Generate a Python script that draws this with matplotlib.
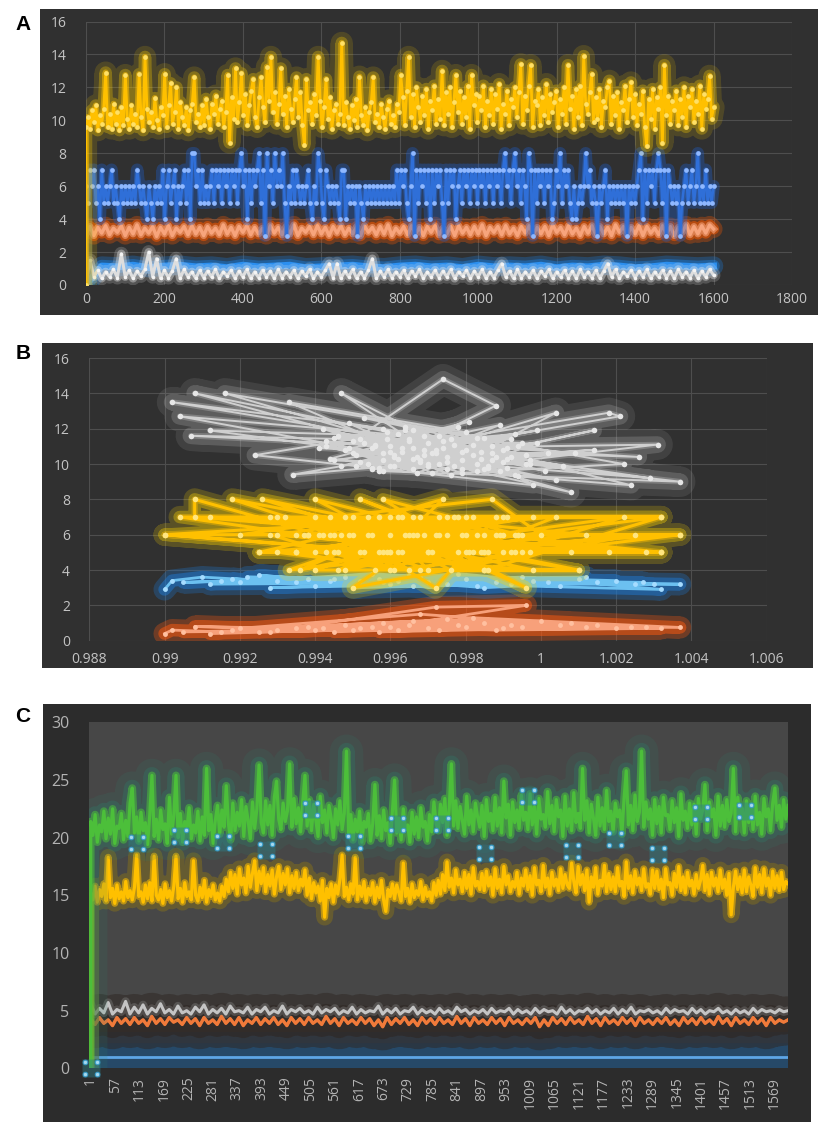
import numpy as np
import matplotlib
matplotlib.use('Agg')
import matplotlib.pyplot as plt
from matplotlib.patches import Rectangle
from matplotlib.path import Path

# ---------------- data ----------------
# Panel A (x = sample index 0..1600); the first value of yellow/blue sits on x = 0
a_yellow = [0.0, 9.6, 10.2, 9.5, 10.6, 9.9, 10.9, 9.4, 10.3, 9.8, 10.7, 12.9, 9.6, 10.4, 9.5, 11.0, 9.8, 10.5, 9.4, 10.8,
            9.7, 12.75, 10.1, 9.5, 10.9, 9.8, 10.4, 9.6, 12.8, 10.2, 9.4, 13.85, 10.7, 9.9, 10.5, 9.6, 11.35, 10.0, 9.5, 10.8,
            10.3, 12.8, 9.6, 10.9, 12.25, 9.8, 10.5, 12.0, 9.5, 11.1, 10.2, 9.7, 10.8, 9.4, 10.6, 11.0, 12.6, 9.9, 10.4, 9.6,
            10.9, 9.7, 11.3, 10.2, 9.5, 11.0, 10.4, 11.5, 9.8, 10.7, 11.2, 9.6, 10.5, 12.75, 8.65, 11.4, 10.1, 13.15, 9.9, 11.1,
            12.85, 10.3, 11.6, 9.7, 10.9, 11.8, 12.5, 10.2, 9.6, 11.4, 12.6, 10.8, 9.9, 13.25, 11.2, 13.85, 10.5, 11.7, 9.8, 11.0,
            13.15, 10.4, 11.5, 9.6, 11.9, 10.7, 9.9, 11.3, 12.6, 10.2, 11.7, 9.7, 8.5, 12.5, 10.6, 11.1, 9.8, 11.6, 10.3, 13.85,
            11.2, 9.6, 10.8, 12.5, 10.1, 11.4, 9.5, 10.6, 11.0, 9.8, 10.4, 14.7, 9.7, 11.1, 10.2, 9.5, 10.9, 10.0, 11.3, 9.6,
            12.65, 10.3, 9.7, 10.8, 9.4, 10.5, 11.1, 12.6, 9.9, 10.4, 9.6, 11.0, 10.2, 9.5, 10.7, 11.2, 9.8, 10.3, 9.6, 11.0,
            10.5, 12.75, 11.4, 9.7, 11.8, 13.85, 10.2, 11.6, 9.6, 12.0, 10.8, 9.9, 11.5, 10.3, 11.9, 9.5, 11.2, 10.6, 12.1, 9.8,
            11.3, 10.1, 13.0, 9.7, 11.7, 10.4, 12.0, 9.6, 11.1, 12.75, 10.5, 11.8, 9.8, 11.4, 10.2, 12.1, 9.5, 12.75, 10.9, 11.6,
            9.9, 11.5, 10.6, 12.1, 9.6, 11.2, 10.3, 11.9, 9.8, 11.6, 10.7, 12.2, 9.5, 11.0, 10.4, 11.8, 9.7, 11.3, 10.8, 12.0,
            10.2, 11.7, 13.4, 9.8, 11.5, 10.6, 12.1, 13.35, 9.6, 11.2, 10.9, 11.9, 9.7, 11.4, 10.3, 12.2, 9.9, 11.6, 10.5, 11.1,
            11.8, 9.6, 11.3, 10.4, 12.0, 9.8, 13.35, 10.7, 11.5, 9.5, 11.9, 10.2, 12.1, 9.7, 13.9, 11.0, 10.4, 11.7, 12.8, 9.9,
            11.4, 10.1, 11.9, 9.6, 11.2, 10.8, 12.0, 12.4, 9.8, 11.5, 10.3, 11.7, 9.5, 11.1, 10.6, 12.1, 9.9, 11.3, 12.3, 10.2,
            11.6, 9.7, 11.0, 10.4, 11.8, 9.6, 8.45, 11.3, 10.1, 11.9, 9.5, 11.4, 10.7, 12.0, 8.6, 13.35, 10.3, 11.5, 9.8, 11.2,
            10.6, 11.8, 9.7, 11.3, 10.2, 12.0, 9.6, 11.5, 10.8, 11.9, 9.9, 11.2, 10.4, 12.1, 9.5, 11.6, 10.7, 11.3, 12.7, 10.1,
            10.8]
a_blue = [0, 6, 5, 7, 6, 7, 5, 6, 4, 7, 5, 6, 5, 6, 7, 5, 6, 5, 4, 6,
          5, 6, 5, 6, 5, 6, 5, 7, 6, 5, 6, 5, 4, 6, 5, 4, 6, 5, 6, 5,
          7, 4, 6, 7, 5, 6, 7, 4, 6, 5, 6, 7, 5, 7, 4, 8, 8, 6, 7, 5,
          7, 5, 6, 5, 6, 7, 5, 7, 6, 7, 5, 7, 6, 7, 5, 7, 6, 7, 5, 7,
          8, 6, 7, 4, 7, 5, 7, 6, 7, 8, 5, 7, 3, 8, 6, 7, 5, 8, 6, 7,
          6, 8, 5, 3, 6, 5, 7, 5, 7, 6, 5, 6, 5, 6, 7, 5, 4, 6, 5, 8,
          7, 5, 4, 7, 6, 5, 6, 5, 6, 5, 4, 7, 7, 4, 6, 5, 6, 5, 6, 3,
          6, 5, 4, 6, 5, 6, 5, 6, 5, 6, 5, 6, 5, 6, 5, 6, 5, 6, 5, 7,
          5, 7, 6, 7, 5, 4, 6, 8, 3, 7, 5, 7, 6, 7, 5, 7, 4, 7, 5, 7,
          6, 7, 5, 3, 7, 5, 7, 6, 7, 4, 6, 7, 5, 7, 6, 7, 5, 7, 6, 7,
          5, 7, 6, 7, 5, 7, 6, 7, 5, 7, 6, 7, 5, 7, 8, 6, 7, 5, 7, 8,
          6, 7, 5, 7, 6, 4, 8, 7, 3, 7, 5, 7, 6, 7, 5, 7, 6, 7, 4, 5,
          7, 6, 8, 5, 7, 6, 7, 5, 4, 6, 4, 5, 6, 5, 6, 8, 6, 7, 5, 6,
          5, 3, 6, 5, 6, 7, 4, 6, 5, 6, 5, 6, 5, 6, 5, 6, 3, 6, 5, 6,
          5, 6, 7, 8, 4, 7, 5, 7, 6, 7, 5, 7, 8, 7, 5, 7, 3, 7, 6, 5,
          6, 5, 6, 3, 5, 6, 7, 5, 6, 7, 5, 6, 8, 5, 6, 5, 7, 5, 6, 5,
          6]
a_orange = [3.1, 3.55, 3.0, 3.5, 3.15, 3.6, 3.05, 3.45, 3.2, 3.6,
            3.0, 3.5, 3.1, 3.65, 3.05, 3.45, 3.15, 3.55, 2.95, 3.5,
            3.1, 3.6, 3.0, 3.45, 3.2, 3.55, 3.05, 3.6, 3.1, 3.5,
            3.0, 3.55, 3.15, 3.45, 3.05, 3.65, 3.1, 3.5, 3.0, 3.55,
            3.2, 3.6, 3.05, 3.5, 3.1, 3.45, 3.0, 3.6, 3.15, 3.5,
            3.05, 3.55, 3.1, 3.65, 3.0, 3.45, 3.2, 3.55, 3.05, 3.6,
            3.1, 3.5, 3.0, 3.55, 3.15, 3.6, 3.05, 3.45, 3.1, 3.55,
            3.0, 3.6, 3.2, 3.5, 3.05, 3.55, 3.1, 3.65, 3.0, 3.45,
            3.15, 3.55, 3.05, 3.6, 3.1, 3.5, 3.0, 3.55, 3.2, 3.6,
            3.05, 3.45, 3.1, 3.55, 3.0, 3.6, 3.15, 3.5, 3.05, 3.55,
            3.1, 3.65, 3.0, 3.5, 3.2, 3.55, 3.05, 3.6, 3.1, 3.45,
            3.0, 3.55, 3.15, 3.6, 3.05, 3.5, 3.1, 3.55, 3.0, 3.65,
            3.2, 3.5, 3.05, 3.6, 3.1, 3.45, 3.0, 3.55, 3.15, 3.6,
            3.05, 3.55, 3.1, 3.5, 3.0, 3.65, 3.2, 3.55, 3.05, 3.5,
            3.1, 3.6, 3.0, 3.55, 3.15, 3.45, 3.05, 3.6, 3.1, 3.55,
            3.0, 3.5, 3.2, 3.65, 3.05, 3.55, 3.1, 3.6, 3.15, 3.65,
            3.4]
a_grey = [0.1, 1.5, 0.5, 0.9, 0.4, 0.8, 0.5, 0.95, 0.45, 1.9,
          0.5, 0.9, 0.4, 0.85, 0.55, 0.95, 2.0, 0.5, 1.6, 0.4,
          0.9, 0.45, 0.85, 1.6, 0.4, 0.95, 0.5, 0.8, 0.4, 0.9,
          0.45, 0.85, 0.5, 0.95, 0.4, 0.8, 0.55, 0.9, 0.4, 0.85,
          0.5, 0.95, 0.4, 0.8, 0.45, 0.9, 0.5, 0.85, 0.4, 0.95,
          0.45, 0.8, 0.5, 0.9, 0.4, 0.85, 0.55, 0.95, 0.4, 0.8,
          0.5, 0.9, 1.3, 0.45, 1.3, 0.4, 0.85, 0.5, 0.95, 0.4,
          0.8, 0.45, 0.9, 1.6, 0.4, 0.85, 0.5, 0.95, 0.45, 0.8,
          0.5, 0.9, 0.4, 0.85, 0.55, 0.95, 0.4, 0.8, 0.5, 0.9,
          0.45, 0.85, 0.5, 0.95, 0.4, 0.8, 0.55, 0.9, 0.4, 0.85,
          0.5, 0.95, 0.4, 0.8, 0.45, 0.9, 1.3, 0.5, 0.85, 0.4,
          0.95, 0.45, 0.8, 0.5, 0.9, 0.4, 0.85, 0.55, 0.95, 0.4,
          0.8, 0.5, 0.9, 0.45, 0.85, 0.4, 0.95, 0.5, 0.8, 0.45,
          0.9, 0.4, 0.85, 1.3, 0.5, 0.95, 0.4, 0.8, 0.55, 0.9,
          0.45, 0.85, 0.5, 0.95, 0.4, 0.8, 0.5, 0.9, 0.45, 0.85,
          0.4, 0.95, 0.5, 0.8, 0.45, 0.9, 0.4, 0.85, 0.5, 0.95,
          0.6]
a_lightblue = [0.0, 1.15, 1.1, 1.2, 1.05, 1.15, 1.2, 1.1, 1.15, 1.05,
               1.2, 1.1, 1.15, 1.2, 1.05, 1.1, 1.15, 1.2, 1.1, 1.05,
               1.15, 1.2, 1.1, 1.15, 1.05, 1.2, 1.1, 1.15, 1.1, 1.2,
               1.05, 1.15, 1.1, 1.2, 1.15, 1.05, 1.1, 1.2, 1.15, 1.1, 1.15]
a_xticks = [0, 200, 400, 600, 800, 1000, 1200, 1400, 1600, 1800]
a_yticks = [0, 2, 4, 6, 8, 10, 12, 14, 16]

# Panel B (x = ratio, y = value), points in drawing order
b_grey_x = [0.9961, 0.9970, 0.9952, 0.9990, 0.9946, 0.9983, 0.9958, 0.9902, 0.9965, 0.9997,
            0.9941, 0.9978, 0.9955, 1.0004, 0.9987, 0.9949, 0.9973, 1.0009, 0.9962, 0.9908,
            0.9969, 0.9993, 0.9956, 0.9981, 0.9944, 0.9975, 1.0031, 0.9966, 0.9916, 0.9985,
            0.9958, 0.9999, 0.9947, 0.9976, 0.9904, 0.9968, 0.9991, 0.9953, 1.0022, 0.9979,
            0.9950, 0.9974, 0.9988, 0.9963, 1.0004, 0.9942, 0.9970, 0.9995, 0.9907, 0.9960,
            0.9984, 1.0037, 0.9957, 0.9980, 0.9933, 0.9967, 0.9996, 0.9945, 1.0026, 0.9972,
            0.9934, 0.9961, 0.9989, 0.9951, 1.0018, 1.0021, 0.9977, 0.9998, 0.9924, 0.9964,
            0.9986, 0.9947, 0.9971, 1.0008, 0.9955, 0.9992, 0.9912, 0.9975, 1.0029, 0.9959,
            0.9982, 1.0014, 0.9966, 0.9943, 0.9994, 1.0024, 0.9969, 0.9987, 0.9954, 1.0014,
            0.9968, 0.9979, 0.9957, 0.9992, 0.9963, 0.9985, 0.9950, 0.9974, 0.9997, 0.9960,
            0.9982, 0.9966, 0.9989, 0.9953, 0.9977, 1.0002, 0.9961, 0.9971, 0.9994, 0.9958,
            0.9983, 0.9948, 0.9975, 1.0006, 0.9965, 0.9987, 0.9955, 0.9979, 0.9969, 0.9991,
            0.9962, 0.9986, 0.9949, 0.9973, 0.9996, 0.9958, 0.9980, 0.9966, 0.9990, 0.9952,
            0.9976, 0.9999, 0.9960, 0.9983, 0.9945, 0.9970, 0.9993, 0.9956, 0.9979, 0.9964,
            0.9988, 0.9951, 0.9974, 1.0001, 0.9959, 0.9984, 0.9967, 0.9943, 0.9991, 0.9972]
b_grey_y = [10.4, 11.2, 10.1, 10.8, 11.6, 9.6, 12.0, 13.5, 11.3, 10.2,
            10.9, 12.1, 9.8, 12.9, 11.0, 12.3, 10.0, 10.6, 11.7, 14.0,
            10.5, 9.4, 11.1, 12.4, 10.3, 9.7, 11.1, 10.9, 14.0, 11.5,
            10.6, 11.9, 9.9, 11.4, 12.7, 10.2, 10.9, 12.6, 10.0, 9.5,
            11.3, 14.8, 13.3, 10.7, 9.1, 12.0, 9.9, 11.2, 11.6, 11.0,
            10.3, 9.0, 9.6, 11.8, 13.5, 10.4, 10.0, 11.5, 10.4, 10.8,
            9.4, 9.9, 12.2, 10.5, 12.9, 12.7, 11.1, 8.8, 10.5, 11.9,
            9.8, 14.0, 10.6, 8.4, 10.9, 11.4, 11.9, 10.1, 9.2, 11.4,
            10.5, 11.9, 9.7, 11.0, 9.3, 8.8, 11.6, 10.2, 10.0, 10.8,
            10.1, 10.7, 9.8, 10.4, 10.9, 9.7, 10.6, 11.3, 10.0, 9.9,
            11.1, 10.3, 9.6, 11.2, 9.9, 10.6, 10.5, 9.5, 11.0, 10.2,
            10.0, 10.8, 10.4, 9.9, 11.4, 10.6, 9.7, 10.2, 10.8, 9.8,
            10.3, 9.9, 10.9, 11.6, 10.5, 9.6, 10.8, 11.9, 10.1, 11.4,
            9.4, 11.2, 10.7, 11.5, 10.2, 10.0, 11.7, 11.0, 9.7, 12.1,
            10.4, 9.9, 10.9, 9.6, 11.8, 10.7, 9.5, 11.3, 10.3, 10.6]
b_yellow_x = [0.9955, 0.9970, 0.9940, 0.9985, 0.9962, 0.9900, 0.9978, 0.9948, 0.9993, 0.9958,
              0.9908, 0.9908, 0.9966, 0.9982, 0.9945, 1.0004, 0.9968, 0.9930, 0.9975, 0.9952,
              0.9990, 0.9938, 0.9963, 1.0012, 0.9957, 0.9986, 0.9926, 0.9972, 0.9943, 0.9998,
              0.9960, 0.9933, 0.9980, 1.0025, 0.9950, 0.9977, 0.9947, 0.9918, 0.9992, 0.9965,
              0.9928, 0.9985, 1.0032, 0.9959, 0.9974, 0.9941, 1.0008, 0.9969, 0.9996, 0.9954,
              0.9920, 0.9983, 1.0037, 0.9961, 0.9935, 0.9988, 0.9972, 0.9949, 1.0018, 0.9966,
              0.9925, 0.9979, 0.9956, 1.0000, 0.9987, 0.9944, 1.0032, 0.9971, 0.9937, 0.9994,
              0.9958, 0.9981, 1.0010, 0.9964, 0.9912, 0.9989, 0.9953, 1.0022, 0.9976, 0.9940,
              0.9997, 0.9962, 0.9930, 0.9984, 1.0028, 0.9967, 0.9946, 0.9991, 0.9973, 0.9960,
              0.9900, 0.9935, 0.9990, 1.0037, 0.9960, 1.0032, 0.9925, 0.9970, 0.9904, 0.9960,
              1.0032, 0.9980, 0.9940, 1.0010, 0.9965, 0.9950, 0.9995, 0.9930, 0.9985, 0.9945,
              0.9935, 0.9990, 0.9942, 0.9985, 0.9950, 0.9978, 0.9938, 0.9995, 0.9957, 0.9970,
              0.9932, 0.9988, 0.9963, 0.9946, 0.9982, 0.9954, 0.9998, 0.9940, 0.9975, 0.9960,
              0.9928, 0.9993, 0.9948, 0.9980, 0.9936, 0.9968, 0.9986, 0.9952, 0.9973, 0.9944]
b_yellow_y = [6, 5, 7, 6, 5, 6, 7, 4, 6, 5,
              8, 7, 6, 5, 6, 7, 4, 5, 6, 8,
              5, 6, 7, 6, 5, 4, 8, 6, 5, 7,
              6, 4, 5, 6, 3, 7, 6, 8, 5, 6,
              7, 4, 7, 5, 8, 6, 5, 6, 3, 7,
              6, 6, 6, 4, 5, 7, 3, 6, 5, 7,
              5, 6, 4, 6, 8, 7, 5, 5, 6, 6,
              8, 5, 4, 6, 7, 6, 5, 7, 4, 8,
              5, 7, 6, 5, 5, 6, 5, 7, 6, 5,
              6, 6, 6, 6, 5, 5, 5, 5, 7, 7,
              7, 7, 4, 4, 4, 6, 6, 7, 5, 5,
              5, 7, 6, 4, 7, 5, 6, 5, 7, 4,
              7, 6, 5, 4, 7, 6, 4, 5, 7, 4,
              6, 5, 7, 6, 4, 7, 5, 5, 7, 6]
b_blue_x = [0.9900, 0.9902, 0.9910, 0.9935, 0.9918, 0.9960, 0.9925, 0.9972, 0.9945, 0.9988,
            0.9912, 0.9955, 1.0005, 0.9930, 0.9968, 1.0015, 0.9950, 0.9980, 0.9922, 1.0025,
            0.9962, 0.9940, 0.9995, 1.0032, 0.9958, 0.9915, 0.9975, 1.0010, 0.9948, 0.9985,
            1.0020, 0.9965, 0.9905, 0.9938, 0.9992, 1.0030, 0.9952, 0.9978, 1.0002, 0.9928,
            0.9970, 1.0037, 0.9944, 0.9983, 1.0012, 0.9957, 0.9920, 0.9998, 1.0027, 0.9966]
b_blue_y = [2.9, 3.4, 3.6, 3.3, 3.5, 3.2, 3.7, 3.0, 3.5, 3.3,
            3.2, 3.8, 3.1, 3.4, 3.6, 3.3, 3.0, 3.5, 3.6, 3.2,
            3.4, 3.1, 3.6, 2.9, 3.3, 3.4, 3.2, 3.5, 3.6, 3.0,
            3.4, 3.7, 3.3, 3.5, 3.2, 3.2, 3.4, 3.8, 3.3, 3.0,
            3.3, 3.2, 3.4, 3.1, 3.6, 3.5, 3.3, 3.4, 3.3, 3.1]
b_orange_x = [0.9900, 0.9902, 0.9915, 0.9935, 0.9908, 0.9950, 0.9925, 0.9965, 0.9942, 0.9980,
              0.9912, 0.9958, 0.9990, 0.9930, 0.9972, 0.9996, 0.9960, 1.0005, 0.9945, 0.9985,
              0.9920, 0.9968, 1.0012, 0.9938, 0.9975, 1.0020, 0.9952, 0.9992, 0.9905, 1.0028,
              0.9962, 0.9982, 1.0037, 0.9948, 1.0000, 0.9928, 0.9970, 1.0015, 0.9955, 0.9988,
              1.0032, 0.9940, 0.9978, 1.0008, 0.9918, 0.9966, 1.0024, 0.9957, 0.9995, 0.9973]
b_orange_y = [0.4, 0.6, 0.5, 0.7, 0.8, 0.6, 0.5, 0.9, 0.7, 0.8,
              0.4, 1.0, 0.7, 0.6, 1.9, 2.0, 0.8, 0.9, 0.5, 1.0,
              0.7, 1.5, 0.8, 0.8, 1.2, 0.7, 0.7, 0.9, 0.5, 0.8,
              0.6, 1.3, 0.75, 0.9, 1.1, 0.5, 0.7, 0.9, 0.8, 0.6,
              0.7, 0.6, 0.9, 1.0, 0.6, 1.1, 0.8, 0.5, 0.8, 0.6]
b_xticks = [0.988, 0.990, 0.992, 0.994, 0.996, 0.998, 1.000, 1.002, 1.004, 1.006]
b_xlabels = ['0.988', '0.99', '0.992', '0.994', '0.996', '0.998', '1', '1.002', '1.004', '1.006']
b_yticks = [0, 2, 4, 6, 8, 10, 12, 14, 16]

# Panel C (x = category index 1..1600); the first value of green/yellow sits on x = 1
c_green = [0.0, 21.4, 20.2, 22.0, 19.6, 21.1, 20.5, 22.3, 19.9, 21.7, 20.3, 22.5, 19.5, 21.0, 20.8, 22.1, 19.8, 21.5, 20.1, 23.0,
           24.3, 20.4, 21.8, 19.7, 22.2, 20.6, 21.3, 19.4, 22.0, 25.4, 20.1, 21.6, 19.8, 22.4, 20.7, 21.2, 19.5, 23.5, 20.3, 21.9,
           25.4, 20.0, 22.1, 19.6, 21.4, 20.8, 22.6, 19.9, 21.1, 20.4, 22.3, 19.7, 21.8, 20.2, 26.0, 20.6, 22.0, 19.5, 21.5, 22.8,
           20.3, 22.4, 20.9, 24.5, 21.2, 19.8, 23.0, 20.6, 22.2, 21.0, 23.3, 20.1, 22.7, 21.5, 19.9, 23.1, 20.8, 22.5, 26.3, 21.3,
           20.4, 23.2, 21.1, 22.8, 20.2, 23.5, 24.9, 21.6, 20.7, 23.0, 21.4, 22.3, 26.4, 20.9, 23.4, 21.2, 22.6, 20.5, 23.1, 25.4,
           21.0, 23.3, 20.6, 22.9, 21.5, 20.1, 23.6, 21.3, 22.4, 20.4, 22.8, 21.7, 20.0, 22.5, 21.1, 23.2, 20.7, 22.1, 27.5, 20.3,
           22.0, 19.8, 21.6, 20.5, 22.3, 19.6, 21.4, 20.9, 22.1, 19.7, 21.2, 24.6, 20.2, 21.9, 19.9, 22.4, 20.6, 21.3, 19.5, 22.2,
           25.0, 20.4, 21.7, 19.8, 22.5, 20.7, 21.1, 19.6, 22.2, 20.3, 21.8, 20.0, 22.6, 20.9, 21.4, 19.7, 22.0, 20.5, 23.1, 21.2,
           20.6, 22.9, 21.3, 23.4, 20.2, 22.5, 26.4, 21.0, 23.2, 20.8, 22.7, 21.5, 20.3, 23.6, 21.1, 22.4, 20.5, 23.0, 21.8, 20.9,
           22.8, 20.1, 23.3, 21.4, 22.1, 20.6, 23.5, 21.0, 22.6, 20.4, 24.9, 21.7, 22.9, 20.2, 23.1, 21.3, 22.4, 20.8, 23.7, 21.5,
           22.2, 20.7, 23.8, 21.1, 22.7, 20.3, 23.4, 21.6, 22.0, 20.9, 24.0, 21.2, 22.8, 20.5, 23.3, 21.8, 22.4, 20.1, 23.6, 21.0,
           22.5, 20.6, 23.9, 21.3, 22.1, 20.8, 26.0, 21.5, 23.2, 20.4, 22.9, 21.7, 20.2, 23.5, 21.0, 22.6, 20.7, 24.1, 21.4, 22.3,
           20.5, 23.0, 21.8, 22.4, 20.3, 23.4, 25.8, 21.1, 22.8, 20.6, 23.7, 21.4, 22.2, 27.5, 20.9, 23.1, 21.6, 22.5, 20.2, 23.3,
           21.2, 22.7, 20.4, 23.5, 21.9, 22.0, 20.7, 23.2, 21.3, 22.6, 20.1, 23.8, 21.5, 22.3, 20.8, 23.0, 21.1, 22.9, 20.3, 23.4,
           21.6, 22.4, 24.6, 20.6, 23.1, 21.8, 22.5, 20.2, 23.6, 21.0, 22.8, 20.9, 23.3, 21.4, 22.1, 26.0, 20.5, 23.5, 21.7, 22.6,
           20.4, 23.2, 21.3, 22.9, 20.7, 23.6, 21.1, 22.2, 20.3, 23.4, 21.8, 22.5, 20.6, 23.0, 24.3, 21.5, 22.8, 20.9, 23.3, 21.6,
           22.8]
c_yellow = [0.0, 15.2, 14.6, 15.8, 14.4, 15.5, 14.9, 16.0, 14.5, 18.3, 14.8, 15.6, 14.3, 15.9, 14.7, 15.3, 14.5, 16.2, 14.8, 15.4,
            14.6, 15.7, 18.5, 14.9, 15.3, 14.4, 15.9, 14.7, 16.1, 14.5, 18.4, 15.0, 14.6, 15.5, 14.3, 16.0, 14.8, 15.4, 14.5, 15.8,
            18.4, 14.7, 15.6, 14.4, 16.1, 14.9, 15.3, 14.6, 18.0, 15.0, 14.5, 15.7, 14.8, 16.3, 14.4, 15.5, 14.9, 15.9, 14.6, 15.2,
            14.5, 15.8, 14.9, 16.4, 15.3, 17.0, 15.6, 16.8, 15.1, 17.3, 15.9, 16.5, 15.2, 17.5, 15.7, 16.9, 18.0, 15.4, 17.1, 16.0,
            17.4, 15.3, 16.8, 15.8, 17.2, 15.1, 16.6, 17.5, 15.5, 16.9, 15.9, 17.3, 15.2, 16.7, 15.6, 17.0, 15.4, 16.4, 15.8, 17.2,
            15.0, 16.5, 14.7, 16.1, 15.2, 15.8, 14.5, 16.3, 13.1, 15.6, 14.8, 16.0, 14.4, 15.9, 15.1, 16.4, 18.5, 14.9, 15.7, 14.6,
            16.0, 15.1, 18.3, 14.6, 15.8, 14.9, 16.2, 14.5, 15.6, 15.0, 16.1, 14.4, 15.7, 14.8, 16.3, 14.6, 13.6, 15.5, 14.9, 16.0,
            14.7, 15.9, 15.2, 14.5, 17.8, 14.9, 15.6, 14.4, 16.0, 14.8, 15.4, 15.0, 16.2, 14.6, 15.7, 14.9, 15.3, 14.5, 16.1, 15.0,
            16.3, 15.1, 16.8, 15.4, 17.9, 15.7, 16.5, 15.2, 17.2, 15.9, 16.4, 15.3, 17.0, 15.6, 16.8, 15.1, 17.4, 15.8, 16.2, 15.5,
            16.9, 15.4, 17.1, 15.8, 16.6, 15.0, 17.3, 15.6, 16.4, 15.2, 17.5, 15.9, 16.7, 15.3, 16.2, 15.7, 17.0, 15.1, 16.5, 15.8,
            17.2, 15.5, 16.7, 15.0, 17.4, 15.9, 16.3, 15.3, 17.6, 15.7, 16.5, 15.1, 17.0, 15.8, 16.4, 15.4, 17.3, 15.6, 16.8, 15.9,
            15.6, 17.8, 16.2, 15.2, 17.5, 15.9, 16.8, 15.4, 17.2, 14.4, 16.6, 15.7, 17.4, 15.1, 16.3, 15.8, 17.6, 15.3, 16.9, 15.5,
            16.6, 15.3, 17.4, 15.8, 16.2, 14.9, 17.9, 15.6, 16.7, 15.2, 17.1, 15.9, 16.5, 15.4, 17.3, 15.7, 16.0, 15.1, 17.2, 15.6,
            17.1, 15.5, 16.4, 14.8, 17.3, 15.9, 16.1, 15.0, 16.9, 15.7, 17.5, 15.4, 16.6, 15.2, 17.0, 15.8, 16.3, 15.1, 16.8, 15.6,
            16.3, 17.6, 15.4, 16.8, 15.1, 17.0, 15.8, 16.5, 15.3, 17.2, 15.6, 16.4, 15.0, 16.9, 13.3, 15.7, 17.1, 15.5, 16.6, 15.2,
            17.2, 15.3, 16.6, 15.9, 14.9, 17.4, 15.7, 16.8, 15.2, 17.3, 15.8, 16.5, 15.0, 17.1, 15.6, 16.7, 15.4, 17.0, 15.5, 16.2,
            16.0]
c_grey = [5.6, 4.7, 5.2, 4.8, 5.7, 4.7, 5.1, 4.9, 5.8, 4.7,
          5.3, 4.8, 5.5, 4.7, 5.2, 4.9, 5.6, 4.8, 5.1, 4.7,
          5.4, 4.8, 5.0, 4.7, 5.3, 4.9, 5.5, 4.7, 5.1, 4.8,
          5.2, 4.7, 5.4, 4.9, 5.0, 4.8, 5.3, 4.7, 5.1, 4.9,
          5.3, 4.7, 5.0, 4.8, 5.4, 4.7, 5.1, 4.9, 5.2, 4.8,
          5.0, 4.7, 5.3, 4.8, 5.1, 4.9, 5.2, 4.7, 5.0, 4.8,
          5.3, 4.7, 5.1, 4.8, 5.0, 4.9, 5.4, 4.7, 5.1, 4.8,
          5.2, 4.7, 5.0, 4.9, 5.3, 4.7, 5.1, 4.8, 5.0, 4.7,
          5.2, 4.8, 5.0, 4.7, 5.3, 4.9, 5.1, 4.7, 5.0, 4.8,
          5.1, 4.7, 5.2, 4.8, 5.0, 4.9, 5.2, 4.7, 5.1, 4.8,
          5.0, 4.7, 5.2, 4.8, 5.1, 4.9, 5.0, 4.7, 5.3, 4.8,
          5.1, 4.7, 5.0, 4.9, 5.2, 4.8, 5.1, 4.7, 5.0, 4.8,
          5.2, 4.7, 5.1, 4.8, 5.3, 4.7, 5.0, 4.9, 5.1, 4.8,
          5.0, 4.7, 5.2, 4.8, 5.1, 4.9, 5.0, 4.7, 5.2, 4.8,
          5.1, 4.7, 5.0, 4.9, 5.2, 4.8, 5.0, 4.7, 5.1, 4.8,
          5.0, 4.7, 5.2, 4.8, 5.1, 4.9, 5.0, 4.8, 5.1, 4.9,
          5.0]
c_orange = [4.3, 3.8, 4.4, 3.9, 4.2, 3.7, 4.4, 3.9, 4.3, 3.8,
            4.4, 3.9, 4.2, 3.7, 4.5, 3.9, 4.3, 3.8, 4.4, 4.0,
            4.2, 3.8, 4.4, 3.9, 4.3, 3.7, 4.4, 3.9, 4.2, 3.8,
            4.5, 3.9, 4.3, 3.8, 4.4, 3.7, 4.2, 3.9, 4.4, 3.8,
            4.3, 3.9, 4.4, 3.8, 4.2, 3.7, 4.4, 3.9, 4.3, 3.8,
            4.4, 3.9, 4.2, 3.8, 4.5, 3.9, 4.3, 3.7, 4.4, 3.9,
            4.2, 3.8, 4.4, 3.9, 4.3, 3.7, 4.2, 3.6, 4.4, 3.8,
            4.3, 3.9, 4.4, 3.8, 4.2, 3.7, 4.4, 3.9, 4.3, 3.8,
            4.4, 3.9, 4.2, 3.8, 4.5, 3.9, 4.3, 3.7, 4.4, 3.9,
            4.2, 3.8, 4.4, 3.9, 4.3, 3.7, 4.4, 3.9, 4.2, 3.8,
            4.3, 3.9, 4.4, 3.6, 4.2, 3.7, 4.4, 3.9, 4.3, 3.8,
            4.4, 3.9, 4.2, 3.8, 4.5, 3.9, 4.3, 3.7, 4.4, 3.9,
            4.2, 3.8, 4.4, 3.9, 4.3, 3.7, 4.4, 3.9, 4.2, 3.8,
            4.3, 3.9, 4.4, 3.8, 4.2, 3.7, 4.4, 3.9, 4.3, 3.8,
            4.4, 3.9, 4.2, 3.8, 4.5, 3.9, 4.3, 3.7, 4.4, 3.9,
            4.2, 3.8, 4.4, 3.9, 4.3, 3.7, 4.4, 3.9, 4.2, 4.0,
            4.2]
c_blue = [1.0, 1.0, 1.0, 1.0, 1.0, 1.0, 1.0, 1.0, 1.0, 1.0, 1.0, 1.0, 1.0, 1.0, 1.0, 1.0, 1.0]
c_mark_x = [1, 107, 206, 304, 402, 506, 605, 703, 806, 905, 1004, 1104, 1203, 1302, 1401, 1501]
c_mark_y = [0.0, 19.5, 20.1, 19.65, 18.9, 22.5, 19.65, 21.2, 21.2, 18.7, 23.6, 18.8, 19.9, 18.6, 22.1, 22.3]
c_xticks = [1, 57, 113, 169, 225, 281, 337, 393, 449, 505, 561, 617, 673, 729, 785, 841,
            897, 953, 1009, 1065, 1121, 1177, 1233, 1289, 1345, 1401, 1457, 1513, 1569]
c_yticks = [0, 5, 10, 15, 20, 25, 30]

# ---------------- figure ----------------
W, H = 822, 1124
fig = plt.figure(figsize=(W / 100, H / 100), dpi=100)
fig.patch.set_facecolor('white')
plt.rcParams['font.family'] = ['Open Sans', 'DejaVu Sans']


def rect(x0, y0, x1, y1):
    return [x0 / W, 1 - y1 / H, (x1 - x0) / W, (y1 - y0) / H]


def box(x0, y0, x1, y1, color, z=0):
    fig.add_artist(Rectangle((x0 / W, 1 - y1 / H), (x1 - x0) / W, (y1 - y0) / H,
                             transform=fig.transFigure, facecolor=color,
                             edgecolor='none', zorder=z))


def xs(lo, hi, n, start_dup=False):
    # sample positions; optionally the first sample shares the first position
    if start_dup:
        return np.concatenate([[lo], np.linspace(lo, hi, n - 1)])
    return np.linspace(lo, hi, n)


def glow(ax, x, y, color, lw, gcol, widths, alphas, z, ms=0, mcol=None, clip=True,
         inner=None):
    for w, a in zip(widths, alphas):
        ax.plot(x, y, color=gcol, lw=w, alpha=a, solid_joinstyle='round',
                solid_capstyle='round', zorder=z, clip_on=clip)
    if inner is not None:
        ax.plot(x, y, color=color, lw=inner[0], alpha=inner[1], solid_joinstyle='round',
                zorder=z + 0.2, clip_on=clip)
    if ms > 0:
        ax.plot(x, y, color=color, lw=lw, marker='o', ms=ms, mfc=mcol, mec=mcol,
                mew=0, zorder=z + 0.5, clip_on=clip)
    else:
        ax.plot(x, y, color=color, lw=lw, zorder=z + 0.5, clip_on=clip)


def style(ax, face, tcol, fs, pad_x, pad_y, grid=True):
    ax.set_facecolor(face)
    for s in ax.spines.values():
        s.set_visible(False)
    ax.tick_params(length=0, colors=tcol, labelsize=fs)
    ax.tick_params(axis='x', pad=pad_x)
    ax.tick_params(axis='y', pad=pad_y)
    if grid:
        ax.grid(True, color='#4e4e4e', lw=0.8)
        ax.set_axisbelow(True)


# panel boxes and letters
box(40, 9, 818, 315, '#303030')
box(42, 343, 813, 668, '#303030')
box(43, 704, 811, 1122, '#2c2c2c')
for lab, yy in [('A', 24), ('B', 354), ('C', 716)]:
    fig.text(23 / W, 1 - yy / H, lab, fontsize=15, fontweight='bold',
             family=['Liberation Sans', 'DejaVu Sans'], ha='center', va='center')

# ---- Panel A ----
axA = fig.add_axes(rect(86, 21.5, 792, 285))
style(axA, '#303030', '#c4c4c4', 10, 5, 14)
glow(axA, xs(0, 1600, len(a_lightblue)), a_lightblue, '#2b8ff0', 5.0, '#1a7fe0',
     [14, 9], [0.3, 0.45], 2)
glow(axA, xs(0, 1600, len(a_grey)), a_grey, '#dedede', 2.2, '#e8e8e8',
     [10, 6], [0.2, 0.4], 3, ms=2.6, mcol='#f4f4f4')
glow(axA, xs(0, 1600, len(a_orange)), a_orange, '#f7a47c', 2.4, '#ff5a00',
     [13, 8], [0.3, 0.5], 4, inner=(5, 0.6))
glow(axA, xs(0, 1600, len(a_blue), True), a_blue, '#2f6fd8', 1.8, '#1e5fd0',
     [9], [0.35], 5, ms=3.4, mcol='#8fb8ff', inner=(3.5, 0.5))
glow(axA, xs(0, 1600, len(a_yellow), True), a_yellow, '#ffc000', 2.0, '#ffd000',
     [16, 9], [0.15, 0.3], 6, ms=3.4, mcol='#ffe066', inner=(4.5, 0.5))
axA.set_xlim(0, 1800)
axA.set_ylim(0, 16)
axA.set_xticks(a_xticks)
axA.set_yticks(a_yticks)

# ---- Panel B ----
axB = fig.add_axes(rect(89.3, 358, 766.7, 640.7))
style(axB, '#303030', '#c4c4c4', 10, 8, 14)
glow(axB, b_orange_x, b_orange_y, '#f7a07a', 2.0, '#ff5a10', [16, 9], [0.3, 0.5], 2,
     ms=3.5, mcol='#ffc0a0')
glow(axB, b_blue_x, b_blue_y, '#6cc0f0', 2.0, '#1f78d0', [16, 9], [0.3, 0.5], 3,
     ms=3.5, mcol='#a6dcff')
glow(axB, b_yellow_x, b_yellow_y, '#ffc000', 2.2, '#ffd700', [16, 9], [0.2, 0.35], 4,
     ms=4, mcol='#ffe680', inner=(4.5, 0.4))
glow(axB, b_grey_x, b_grey_y, '#cfcfcf', 1.4, '#c4c4c4', [22, 12], [0.12, 0.22], 5,
     ms=4, mcol='#e6e6e6', inner=(4, 0.3))
axB.set_xlim(0.988, 1.006)
axB.set_ylim(0, 16)
axB.set_xticks(b_xticks)
axB.set_xticklabels(b_xlabels)
axB.set_yticks(b_yticks)

# ---- Panel C ----
axC = fig.add_axes(rect(89, 722.3, 788, 1068.3))
style(axC, '#474747', '#b4b4b4', 11.5, 6, 14, grid=False)
axC.tick_params(axis='x', labelsize=10, labelrotation=90)
glow(axC, xs(1, 1600, len(c_blue)), c_blue, '#5ea6e6', 2.0, '#1b4a75',
     [36, 20], [0.45, 0.5], 2)
glow(axC, xs(1, 1600, len(c_orange)), c_orange, '#f07a3a', 2.4, '#2e2622',
     [34, 18], [0.5, 0.6], 3)
glow(axC, xs(1, 1600, len(c_grey)), c_grey, '#c4c4c4', 2.2, '#9a9a9a', [6], [0.3], 4)
axC.plot(xs(1, 1600, len(c_orange)), c_orange, color='#f07a3a', lw=1.8, alpha=0.85, zorder=4.8)
glow(axC, xs(1, 1600, len(c_yellow), True), c_yellow, '#ffc000', 2.3, '#8a7418',
     [12], [0.45], 5, inner=(5, 0.55))
glow(axC, xs(1, 1600, len(c_green), True), c_green, '#4cbf3a', 2.3, '#2e7f6a',
     [24, 12], [0.15, 0.3], 6, inner=(5.5, 0.55))

# 4-dot cluster marker
circ = Path.unit_circle()
verts, codes = [], []
for dx, dy in [(-1.6, -1.6), (1.6, -1.6), (-1.6, 1.6), (1.6, 1.6)]:
    verts.extend(circ.vertices * 0.6 + [dx, dy])
    codes.extend(circ.codes)
quad = Path(np.array(verts), codes)
axC.plot(c_mark_x, c_mark_y, ls='none', marker='s', ms=13, mfc='#2f7f86', mec='none',
         alpha=0.45, zorder=7, clip_on=False)
axC.plot(c_mark_x, c_mark_y, ls='none', marker=quad, ms=12, mfc='#a4d8ee', mec='#3a9cc8',
         mew=0.8, zorder=7.5, clip_on=False)
axC.set_xlim(-3, 1600)
axC.set_ylim(0, 30)
axC.set_xticks(c_xticks)
axC.set_yticks(c_yticks)

fig.savefig('out.png', dpi=100, facecolor='white')
